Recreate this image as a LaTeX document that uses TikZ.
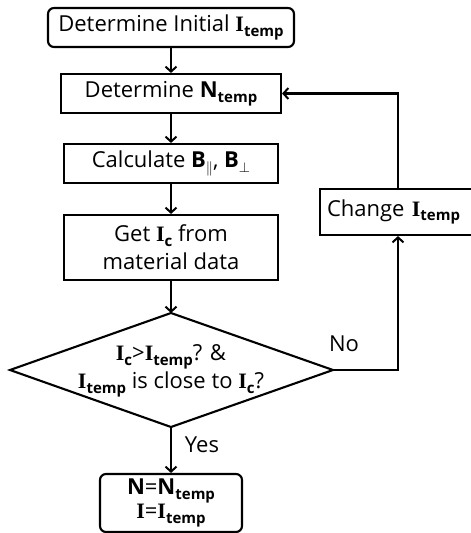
\documentclass[tikz,border=0pt]{standalone}
\usepackage{fontspec}
\setmainfont{Open Sans}
\newfontfamily\serifbold{Liberation Serif}[BoldFont={Liberation Serif Bold}]
\usetikzlibrary{arrows.meta}
\newcommand{\bI}{{\serifbold\bfseries I}}
\newcommand{\mysub}[1]{\raisebox{-0.4ex}{\fontsize{15}{15}\selectfont\bfseries #1}}
\newcommand{\Itemp}{\bI\mysub{temp}}
\newcommand{\Ic}{\bI\mysub{c}}
\tikzset{
  box/.style={draw, line width=2.1pt, inner sep=0pt, align=center, font=\fontsize{22}{28}\selectfont},
  rbox/.style={box, rounded corners=6pt},
  lbl/.style={font=\fontsize{22}{24}\selectfont, inner sep=0pt},
  arr/.style={line width=2.1pt, -{Straight Barb[length=5pt,width=11pt,line width=2pt]}},
  ln/.style={line width=2.1pt}
}
\begin{document}
\begin{tikzpicture}[x=1pt,y=-1pt]
\useasboundingbox (0,0) rectangle (471,533);
\clip (0,0) rectangle (471,533);
\node[rbox, minimum width=246pt, minimum height=39pt] (init) at (171,27.5) {Determine Initial \Itemp};
\node[box, minimum width=220pt, minimum height=39pt] (ntemp) at (171,93.5) {Determine \textbf{N}\mysub{temp}};
\node[box, minimum width=214pt, minimum height=39pt] (calc) at (171,163.5) {Calculate \textbf{B}\mysub{$\parallel$}, \textbf{B}\mysub{$\perp$}};
\node[box, minimum width=214pt, minimum height=65pt] (get) at (171,247.5) {Get \Ic{} from\\material data};
\coordinate (dt) at (171,313);
\coordinate (dl) at (10,370);
\coordinate (dr) at (333,370);
\coordinate (db) at (171,427);
\draw[ln, line join=miter] (dt) -- (dr) -- (db) -- (dl) -- cycle;
\node[align=center, inner sep=0pt, font=\fontsize{22}{28}\selectfont] (cond) at (171,371) {\Ic{}>\Itemp? \&\\\Itemp{} is close to \Ic?};
\node[box, minimum width=156pt, minimum height=46pt, text width=150pt, align=left] (change) at (398,212) {\hspace{4pt}Change \Itemp};
\node[rbox, minimum width=142pt, minimum height=58pt, font=\fontsize{22}{22}\selectfont] (final) at (171,503) {\textbf{N}=\textbf{N}\mysub{temp}\\\bI=\Itemp};
\coordinate (cr) at (398,370);
\coordinate (ct) at (398,93.5);
\draw[arr] (init) -- (ntemp);
\draw[arr] (ntemp) -- (calc);
\draw[arr] (calc) -- (get);
\draw[arr] (get) -- (dt);
\draw[arr] (db) -- (final);
\draw[arr] (dr) -- (cr) -- (change.south -| cr);
\draw[arr] (change.north -| ct) -- (ct) -- (ntemp.east);
\node[lbl] (no) at (344,344) {No};
\node[lbl] (yes) at (202,445) {Yes};
\end{tikzpicture}
\end{document}
